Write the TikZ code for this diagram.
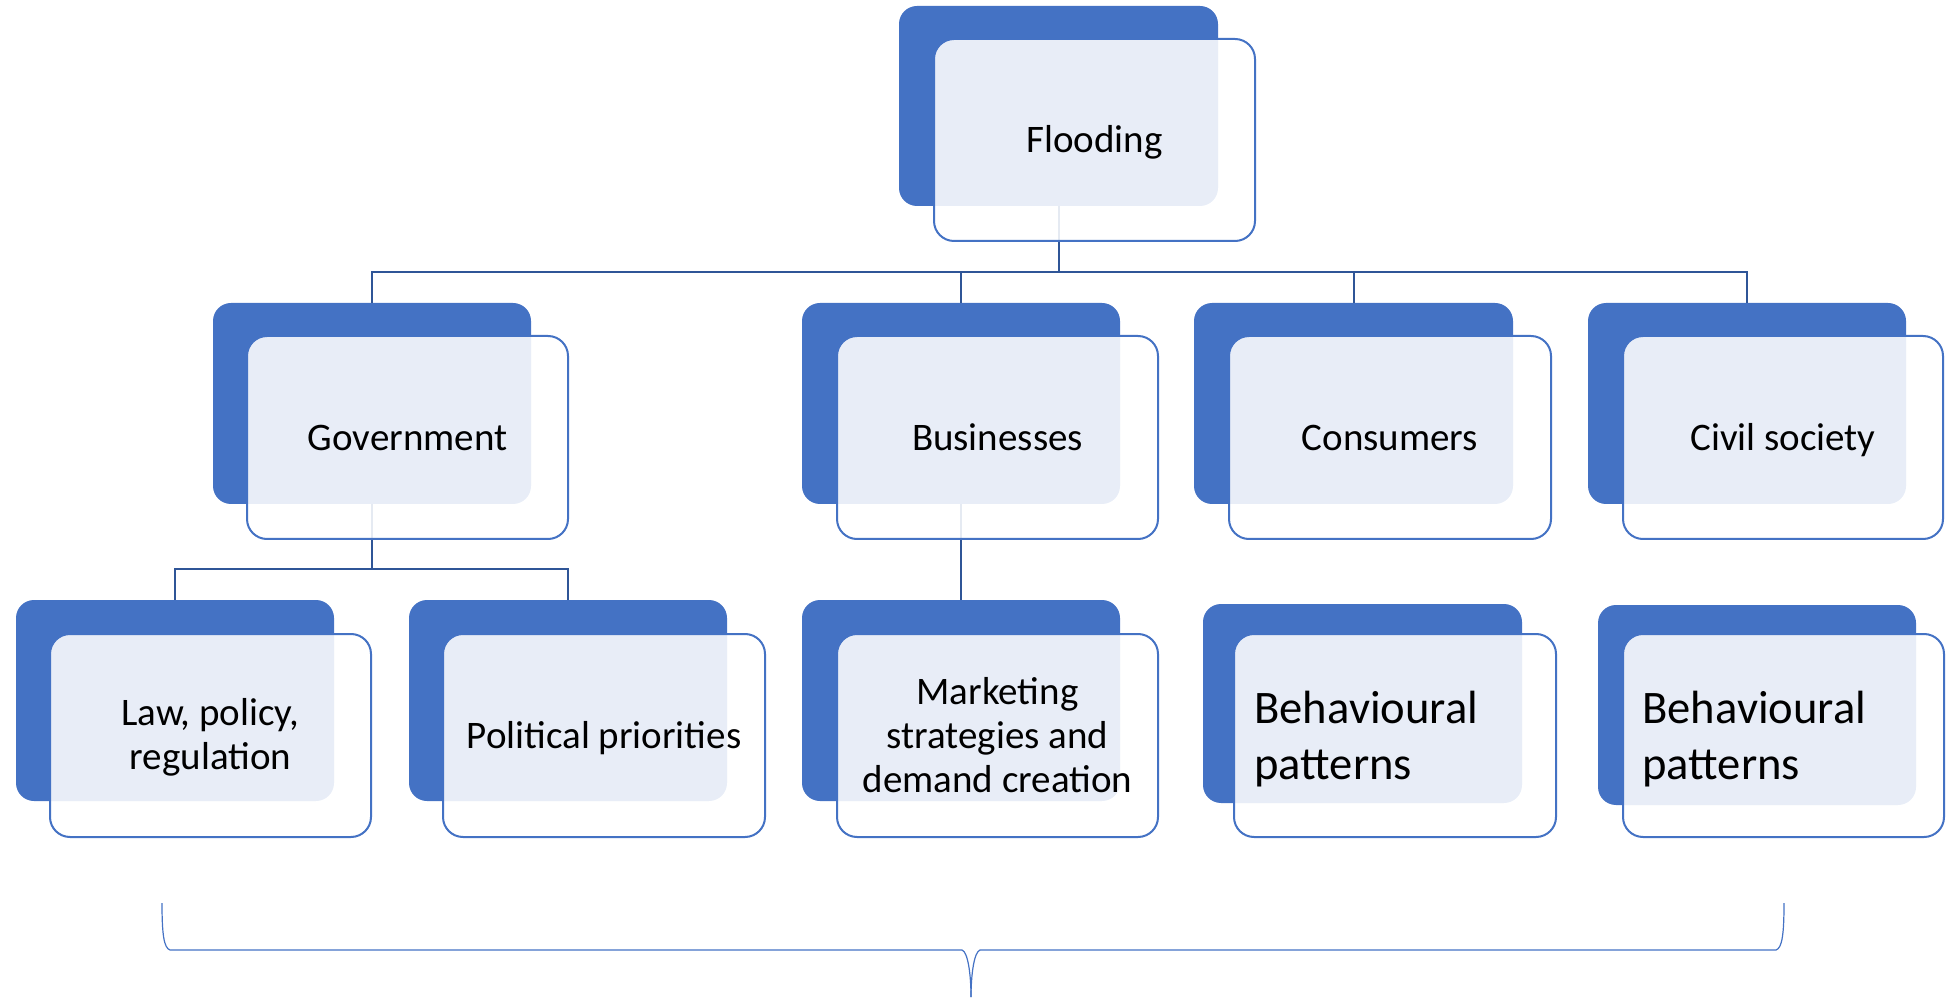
\documentclass[tikz,border=0pt]{standalone}
\usepackage{fontspec}
\setmainfont{Carlito}
\usetikzlibrary{fit}
\definecolor{accent}{HTML}{4472C4}
\definecolor{connc}{HTML}{2F5597}
\begin{document}
\begin{tikzpicture}[x=0.5pt,y=-0.5pt,
  darkbox/.style={fill=accent, draw=none, rounded corners=9pt, inner sep=0pt},
  lightbox/.style={fill=white, fill opacity=0.88, draw=accent, draw opacity=1, line width=1pt, rounded corners=10pt, inner sep=0pt},
  conn/.style={draw=connc, line width=1pt},
  onel/.style={font=\fontsize{19.5}{20}\selectfont, text=black, inner sep=0pt, text height=12.9pt, text depth=0pt},
  lbl/.style={font=\fontsize{19.5}{22}\selectfont, align=center, text=black, inner sep=0pt},
  bigl/.style={font=\fontsize{23.3}{28}\selectfont, align=left, text=black, inner sep=0pt},
  bracestyle/.style={draw=accent, line width=0.6pt}]
\useasboundingbox (0,0) rectangle (1953,999);

% dark back boxes
\node[darkbox, fit={(899,6) (1218,206)}] (fd) {};
\node[darkbox, fit={(213,303) (531,504)}] (gd) {};
\node[darkbox, fit={(802,303) (1120,504)}] (bd) {};
\node[darkbox, fit={(1194,303) (1513,504)}] (cd) {};
\node[darkbox, fit={(1588,303) (1906,504)}] (sd) {};
\node[darkbox, fit={(16,600) (334,801)}] (ld) {};
\node[darkbox, fit={(409,600) (727,801)}] (pd) {};
\node[darkbox, fit={(802,600) (1120,801)}] (md) {};
\node[darkbox, fit={(1203,604) (1522,803)}] (b1d) {};
\node[darkbox, fit={(1598,605) (1916,805)}] (b2d) {};

% connectors
\coordinate (bus) at (0,272);
\coordinate (gbus) at (0,569);
\draw[conn] (fd.south) -- (fd.south |- bus);
\draw[conn] (gd.north) -- (gd.north |- bus) -- (sd.north |- bus) -- (sd.north);
\draw[conn] (bd.north) -- (bd.north |- bus);
\draw[conn] (cd.north) -- (cd.north |- bus);
\draw[conn] (gd.south) -- (gd.south |- gbus);
\draw[conn] (ld.north) -- (ld.north |- gbus) -- (pd.north |- gbus) -- (pd.north);
\draw[conn] (bd.south) -- (md.north);

% light front boxes
\node[lightbox, fit={(934,39) (1255,241)}] (fl) {};
\node[lightbox, fit={(247,336) (568,539)}] (gl) {};
\node[lightbox, fit={(837,336) (1158,539)}] (bl) {};
\node[lightbox, fit={(1229,336) (1551,539)}] (cl) {};
\node[lightbox, fit={(1623,336) (1943,539)}] (sl) {};
\node[lightbox, fit={(50,634) (371,837)}] (ll) {};
\node[lightbox, fit={(443,634) (765,837)}] (pl) {};
\node[lightbox, fit={(837,634) (1158,837)}] (ml) {};
\node[lightbox, fit={(1234,634) (1556,837)}] (b1l) {};
\node[lightbox, fit={(1623,634) (1944,837)}] (b2l) {};

% texts
\node[onel] (flt) at (fl.center) {Flooding};
\node[onel] (glt) at (gl.center) {Government};
\node[onel] (blt) at (bl.center) {Businesses};
\node[onel] (clt) at (cl.center) {Consumers};
\node[onel] (slt) at (sl.center) {Civil society};
\node[lbl, yshift=-1pt] (llt) at (ll.center) {Law, policy,\\regulation};
\node[onel] (plt) at (pl.center) {Political priorities};
\node[lbl] (mlt) at (ml.center) {Marketing\\strategies and\\demand creation};
\node[bigl, anchor=west, xshift=10.5pt, yshift=-2pt] (b1t) at (b1l.west) {Behavioural\\patterns};
\node[bigl, anchor=west, xshift=10pt, yshift=-2pt] (b2t) at (b2l.west) {Behavioural\\patterns};

% brace
\coordinate (braceL) at (162,903);
\coordinate (braceR) at (1784,903);
\coordinate (braceTip) at (971,997);
\draw[bracestyle] (braceL) .. controls (162,935) and (164,948) .. (170,950) -- (962,950) .. controls (968,952) and (971,975) .. (braceTip);
\draw[bracestyle] (braceTip) .. controls (971,975) and (974,952) .. (980,950) -- (1776,950) .. controls (1782,948) and (1784,935) .. (braceR);
\end{tikzpicture}
\end{document}
